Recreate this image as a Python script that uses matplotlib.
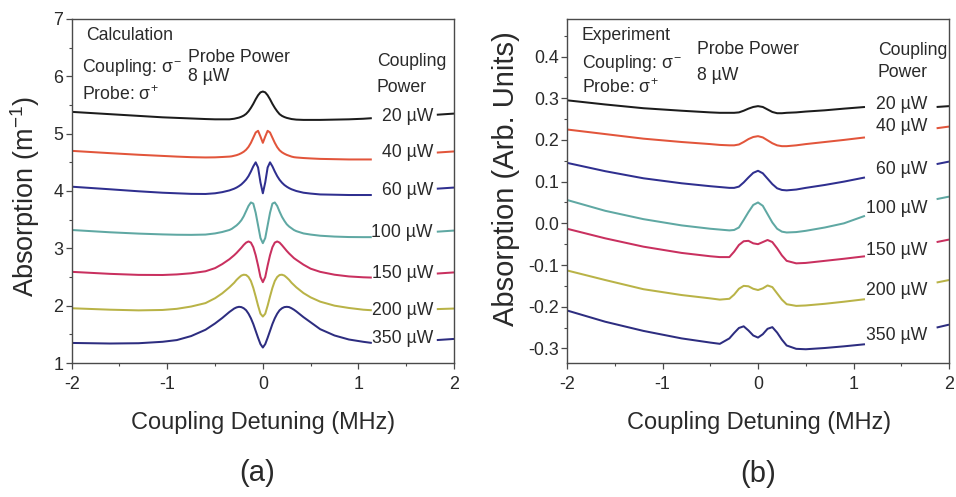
import matplotlib
matplotlib.use("Agg")
import matplotlib.pyplot as plt
from matplotlib import font_manager
from matplotlib.ticker import FixedLocator, FixedFormatter, MultipleLocator
import numpy as np

# ---------------- data ----------------
POWERS = ["20 \u00b5W", "40 \u00b5W", "60 \u00b5W", "100 \u00b5W", "150 \u00b5W", "200 \u00b5W", "350 \u00b5W"]
COLORS = ["#1c1c1c", "#e2553b", "#2f2f8f", "#5fa8a3", "#c9305f", "#b9b347", "#2d2d80"]

# (a) Calculation
XL = [-2.0, -1.6, -1.3, -1.05, -0.9, -0.75, -0.6, -0.5, -0.425,
      -0.35, -0.325, -0.3, -0.275, -0.25, -0.225, -0.2, -0.175, -0.15, -0.125, -0.1, -0.075, -0.05, -0.025,
      0.0,
      0.025, 0.05, 0.075, 0.1, 0.125, 0.15, 0.175, 0.2, 0.225, 0.25, 0.275, 0.3, 0.325, 0.35,
      0.425, 0.5, 0.6, 0.75, 0.9, 1.05, 1.14, 1.82, 2.0]
calc_20 = [5.38, 5.34, 5.31, 5.285, 5.275, 5.265, 5.255, 5.25, 5.25,
           5.25, 5.255, 5.26, 5.27, 5.28, 5.295, 5.315, 5.345, 5.39, 5.45, 5.52, 5.60, 5.67, 5.72,
           5.735,
           5.72, 5.67, 5.60, 5.52, 5.45, 5.39, 5.34, 5.31, 5.29, 5.275, 5.265, 5.255, 5.25, 5.245,
           5.24, 5.24, 5.24, 5.245, 5.25, 5.26, 5.27, 5.33, 5.35]
calc_40 = [4.70, 4.66, 4.632, 4.612, 4.60, 4.59, 4.585, 4.587, 4.593,
           4.60, 4.605, 4.615, 4.625, 4.64, 4.66, 4.685, 4.72, 4.77, 4.84, 4.93, 5.02, 5.05, 4.95,
           4.84,
           4.95, 5.05, 5.02, 4.93, 4.84, 4.765, 4.71, 4.675, 4.65, 4.63, 4.615, 4.60, 4.59, 4.585,
           4.575, 4.568, 4.56, 4.555, 4.55, 4.55, 4.55, 4.67, 4.69]
calc_60 = [4.075, 4.03, 3.995, 3.97, 3.96, 3.95, 3.948, 3.96, 3.98,
           4.01, 4.025, 4.04, 4.06, 4.085, 4.115, 4.155, 4.20, 4.26, 4.34, 4.43, 4.50, 4.41, 4.15,
           3.96,
           4.15, 4.41, 4.50, 4.43, 4.34, 4.26, 4.195, 4.145, 4.105, 4.075, 4.05, 4.03, 4.015, 4.00,
           3.97, 3.955, 3.94, 3.935, 3.93, 3.93, 3.93, 4.04, 4.06]
calc_100 = [3.32, 3.28, 3.257, 3.243, 3.237, 3.235, 3.24, 3.26, 3.285,
            3.32, 3.34, 3.37, 3.40, 3.44, 3.49, 3.56, 3.65, 3.74, 3.80, 3.78, 3.62, 3.40, 3.18,
            3.09,
            3.18, 3.40, 3.62, 3.78, 3.80, 3.74, 3.64, 3.55, 3.48, 3.42, 3.38, 3.35, 3.32, 3.30,
            3.26, 3.24, 3.22, 3.205, 3.197, 3.195, 3.195, 3.29, 3.31]
calc_150 = [2.59, 2.555, 2.537, 2.535, 2.545, 2.565, 2.60, 2.655, 2.725,
            2.81, 2.845, 2.88, 2.92, 2.965, 3.01, 3.06, 3.10, 3.12, 3.10, 3.02, 2.88, 2.70, 2.50,
            2.41,
            2.50, 2.70, 2.88, 3.02, 3.10, 3.12, 3.10, 3.055, 3.005, 2.955, 2.91, 2.87, 2.83, 2.80,
            2.715, 2.645, 2.59, 2.54, 2.51, 2.495, 2.49, 2.56, 2.58]
calc_200 = [1.955, 1.93, 1.918, 1.925, 1.945, 1.985, 2.045, 2.13, 2.215,
            2.32, 2.36, 2.40, 2.45, 2.49, 2.525, 2.54, 2.535, 2.50, 2.43, 2.31, 2.16, 2.00, 1.86,
            1.81,
            1.86, 2.00, 2.16, 2.31, 2.43, 2.50, 2.535, 2.54, 2.525, 2.49, 2.45, 2.40, 2.36, 2.32,
            2.22, 2.145, 2.07, 2.00, 1.96, 1.93, 1.92, 1.94, 1.95]
calc_350 = [1.35, 1.34, 1.345, 1.37, 1.40, 1.47, 1.58, 1.69, 1.785,
            1.89, 1.92, 1.95, 1.97, 1.98, 1.975, 1.955, 1.92, 1.86, 1.78, 1.68, 1.56, 1.44, 1.33,
            1.27,
            1.33, 1.44, 1.56, 1.68, 1.78, 1.86, 1.92, 1.955, 1.975, 1.98, 1.975, 1.955, 1.93, 1.90,
            1.80, 1.71, 1.59, 1.48, 1.41, 1.37, 1.35, 1.40, 1.42]
CALC = [calc_20, calc_40, calc_60, calc_100, calc_150, calc_200, calc_350]
CALC_LABEL_Y = [5.30, 4.67, 4.01, 3.28, 2.56, 1.92, 1.43]

# (b) Experiment
XR = [-2.0, -1.6, -1.2, -0.8, -0.5, -0.4, -0.3, -0.25, -0.2, -0.15, -0.1, -0.05, 0.0,
      0.05, 0.1, 0.15, 0.2, 0.25, 0.3, 0.4, 0.5, 0.7, 0.9, 1.12, 1.87, 2.0]
exp_20 = [0.295, 0.285, 0.276, 0.270, 0.266, 0.265, 0.265, 0.265, 0.266, 0.270, 0.275, 0.279, 0.281,
          0.279, 0.273, 0.267, 0.264, 0.264, 0.265, 0.266, 0.268, 0.271, 0.275, 0.279, 0.279, 0.281]
exp_40 = [0.225, 0.214, 0.203, 0.195, 0.190, 0.188, 0.187, 0.187, 0.189, 0.195, 0.202, 0.207, 0.209,
          0.206, 0.199, 0.192, 0.187, 0.185, 0.185, 0.187, 0.190, 0.195, 0.200, 0.206, 0.228, 0.232]
exp_60 = [0.145, 0.125, 0.108, 0.096, 0.089, 0.087, 0.085, 0.085, 0.088, 0.098, 0.110, 0.121, 0.126,
          0.120, 0.107, 0.094, 0.084, 0.080, 0.079, 0.081, 0.085, 0.092, 0.100, 0.110, 0.142, 0.148]
exp_100 = [0.056, 0.030, 0.010, -0.005, -0.013, -0.015, -0.017, -0.016, -0.010, 0.008, 0.027, 0.044, 0.050,
           0.042, 0.022, 0.002, -0.013, -0.020, -0.022, -0.021, -0.018, -0.010, 0.000, 0.018, 0.058, 0.064]
exp_150 = [-0.013, -0.036, -0.056, -0.071, -0.079, -0.081, -0.081, -0.068, -0.052, -0.043, -0.042, -0.048, -0.050,
           -0.045, -0.040, -0.045, -0.060, -0.077, -0.090, -0.096, -0.095, -0.090, -0.085, -0.079, -0.045, -0.039]
exp_200 = [-0.113, -0.136, -0.158, -0.172, -0.180, -0.183, -0.181, -0.171, -0.157, -0.150, -0.151, -0.157, -0.160,
           -0.156, -0.149, -0.153, -0.168, -0.183, -0.194, -0.198, -0.197, -0.193, -0.188, -0.182, -0.142, -0.136]
exp_350 = [-0.209, -0.236, -0.258, -0.276, -0.286, -0.289, -0.276, -0.263, -0.251, -0.247, -0.257, -0.269, -0.274,
           -0.266, -0.253, -0.249, -0.262, -0.279, -0.293, -0.301, -0.302, -0.299, -0.295, -0.290, -0.250, -0.243]
EXP = [exp_20, exp_40, exp_60, exp_100, exp_150, exp_200, exp_350]
EXP_LABEL_Y = [0.284, 0.232, 0.128, 0.036, -0.065, -0.161, -0.269]

X_TICKS = [-2, -1, 0, 1, 2]
X_TICKLABELS = ["-2", "-1", "0", "1", "2"]
YL_TICKS = [1, 2, 3, 4, 5, 6, 7]
YL_TICKLABELS = ["1", "2", "3", "4", "5", "6", "7"]
YR_TICKS = [-0.3, -0.2, -0.1, 0.0, 0.1, 0.2, 0.3, 0.4]
YR_TICKLABELS = ["-0.3", "-0.2", "-0.1", "0.0", "0.1", "0.2", "0.3", "0.4"]

# ---------------- fonts ----------------
names = {f.name for f in font_manager.fontManager.ttflist}
if "Liberation Sans Narrow" in names:
    HFONT, K = "Liberation Sans Narrow", 1.0
else:
    HFONT, K = "Liberation Sans", 0.89
VFONT = "Liberation Sans"
plt.rcParams["font.family"] = [HFONT, "DejaVu Sans"]
plt.rcParams["mathtext.fontset"] = "custom"
plt.rcParams["mathtext.rm"] = HFONT
plt.rcParams["mathtext.it"] = HFONT
plt.rcParams["mathtext.bf"] = HFONT
plt.rcParams["axes.unicode_minus"] = False

TXT = "#2a2a2a"
SPINE = "#4a4a4a"

fig = plt.figure(figsize=(9.56, 4.97), dpi=100)
axL = fig.add_axes([0.0750, 0.2696, 0.3999, 0.6922])
axR = fig.add_axes([0.5931, 0.2696, 0.3996, 0.6922])


def draw(ax, X, series, cut_lo, cut_hi):
    X = np.asarray(X)
    a = X <= cut_lo
    b = X >= cut_hi
    for ys, c in zip(series, COLORS):
        ys = np.asarray(ys)
        ax.plot(X[a], ys[a], color=c, lw=1.45, solid_capstyle="butt", solid_joinstyle="round")
        ax.plot(X[b], ys[b], color=c, lw=1.45, solid_capstyle="butt")


draw(axL, XL, CALC, 1.15, 1.80)
draw(axR, XR, EXP, 1.13, 1.85)

for ax in (axL, axR):
    ax.set_xlim(-2, 2)
    ax.xaxis.set_major_locator(FixedLocator(X_TICKS))
    ax.xaxis.set_major_formatter(FixedFormatter(X_TICKLABELS))
    ax.xaxis.set_minor_locator(MultipleLocator(0.5))
    for s in ax.spines.values():
        s.set_color(SPINE)
        s.set_linewidth(1.0)
    ax.tick_params(which="major", direction="out", length=4, width=0.9, color=SPINE,
                   labelsize=14.5 * K, labelcolor=TXT, pad=2)
    ax.tick_params(which="minor", direction="out", length=2.5, width=0.8, color=SPINE)
    ax.tick_params(axis="x", which="major", pad=5)

axL.set_ylim(1, 7)
axL.yaxis.set_major_locator(FixedLocator(YL_TICKS))
axL.yaxis.set_major_formatter(FixedFormatter(YL_TICKLABELS))
axL.yaxis.set_minor_locator(MultipleLocator(0.5))

axR.set_ylim(-0.335, 0.49)
axR.yaxis.set_major_locator(FixedLocator(YR_TICKS))
axR.yaxis.set_major_formatter(FixedFormatter(YR_TICKLABELS))
axR.yaxis.set_minor_locator(MultipleLocator(0.05))

# axis labels
for ax, xc in ((axL, 0.500), (axR, 0.503)):
    ax.set_xlabel("Coupling Detuning (MHz)", fontsize=19 * K, color=TXT)
    ax.xaxis.label.set_va("center")
    ax.xaxis.set_label_coords(xc, -0.174)

axL.set_ylabel("Absorption (m$^{-1}$)", fontsize=19.5, color=TXT, family=VFONT)
axL.yaxis.label.set_va("center")
axL.yaxis.set_label_coords(-0.122, 0.483)
axR.set_ylabel("Absorption (Arb. Units)", fontsize=21, color=TXT, family=VFONT)
axR.yaxis.label.set_va("center")
axR.yaxis.set_label_coords(-0.160, 0.535)

AS = 14.3 * K
# annotations (a)
axL.text(0.037, 0.951, "Calculation", transform=axL.transAxes, fontsize=AS, color=TXT, va="center")
axL.text(0.027, 0.858, r"Coupling: $\sigma^{-}$", transform=axL.transAxes, fontsize=AS, color=TXT, va="center")
axL.text(0.027, 0.779, r"Probe: $\sigma^{+}$", transform=axL.transAxes, fontsize=AS, color=TXT, va="center")
axL.text(0.304, 0.887, "Probe Power", transform=axL.transAxes, fontsize=AS, color=TXT, va="center")
axL.text(0.304, 0.834, "8 \u00b5W", transform=axL.transAxes, fontsize=AS, color=TXT, va="center")
axL.text(0.798, 0.875, "Coupling", transform=axL.transAxes, fontsize=AS, color=TXT, va="center")
axL.text(0.798, 0.800, "Power", transform=axL.transAxes, fontsize=AS, color=TXT, va="center")
for lab, y in zip(POWERS, CALC_LABEL_Y):
    axL.text(1.78, y, lab, fontsize=AS, color=TXT, ha="right", va="center")

# annotations (b)
axR.text(0.038, 0.951, "Experiment", transform=axR.transAxes, fontsize=AS, color=TXT, va="center")
axR.text(0.038, 0.872, r"Coupling: $\sigma^{-}$", transform=axR.transAxes, fontsize=AS, color=TXT, va="center")
axR.text(0.038, 0.800, r"Probe: $\sigma^{+}$", transform=axR.transAxes, fontsize=AS, color=TXT, va="center")
axR.text(0.340, 0.910, "Probe Power", transform=axR.transAxes, fontsize=AS, color=TXT, va="center")
axR.text(0.340, 0.837, "8 \u00b5W", transform=axR.transAxes, fontsize=AS, color=TXT, va="center")
axR.text(0.814, 0.907, "Coupling", transform=axR.transAxes, fontsize=AS, color=TXT, va="center")
axR.text(0.814, 0.843, "Power", transform=axR.transAxes, fontsize=AS, color=TXT, va="center")
for lab, y in zip(POWERS, EXP_LABEL_Y):
    axR.text(1.77, y, lab, fontsize=AS, color=TXT, ha="right", va="center")

fig.text(257 / 956, 1 - 473 / 497, "(a)", ha="center", va="center", fontsize=21, family=VFONT, color=TXT)
fig.text(758 / 956, 1 - 474 / 497, "(b)", ha="center", va="center", fontsize=21, family=VFONT, color=TXT)

fig.savefig("out.png", dpi=100, facecolor="white")
